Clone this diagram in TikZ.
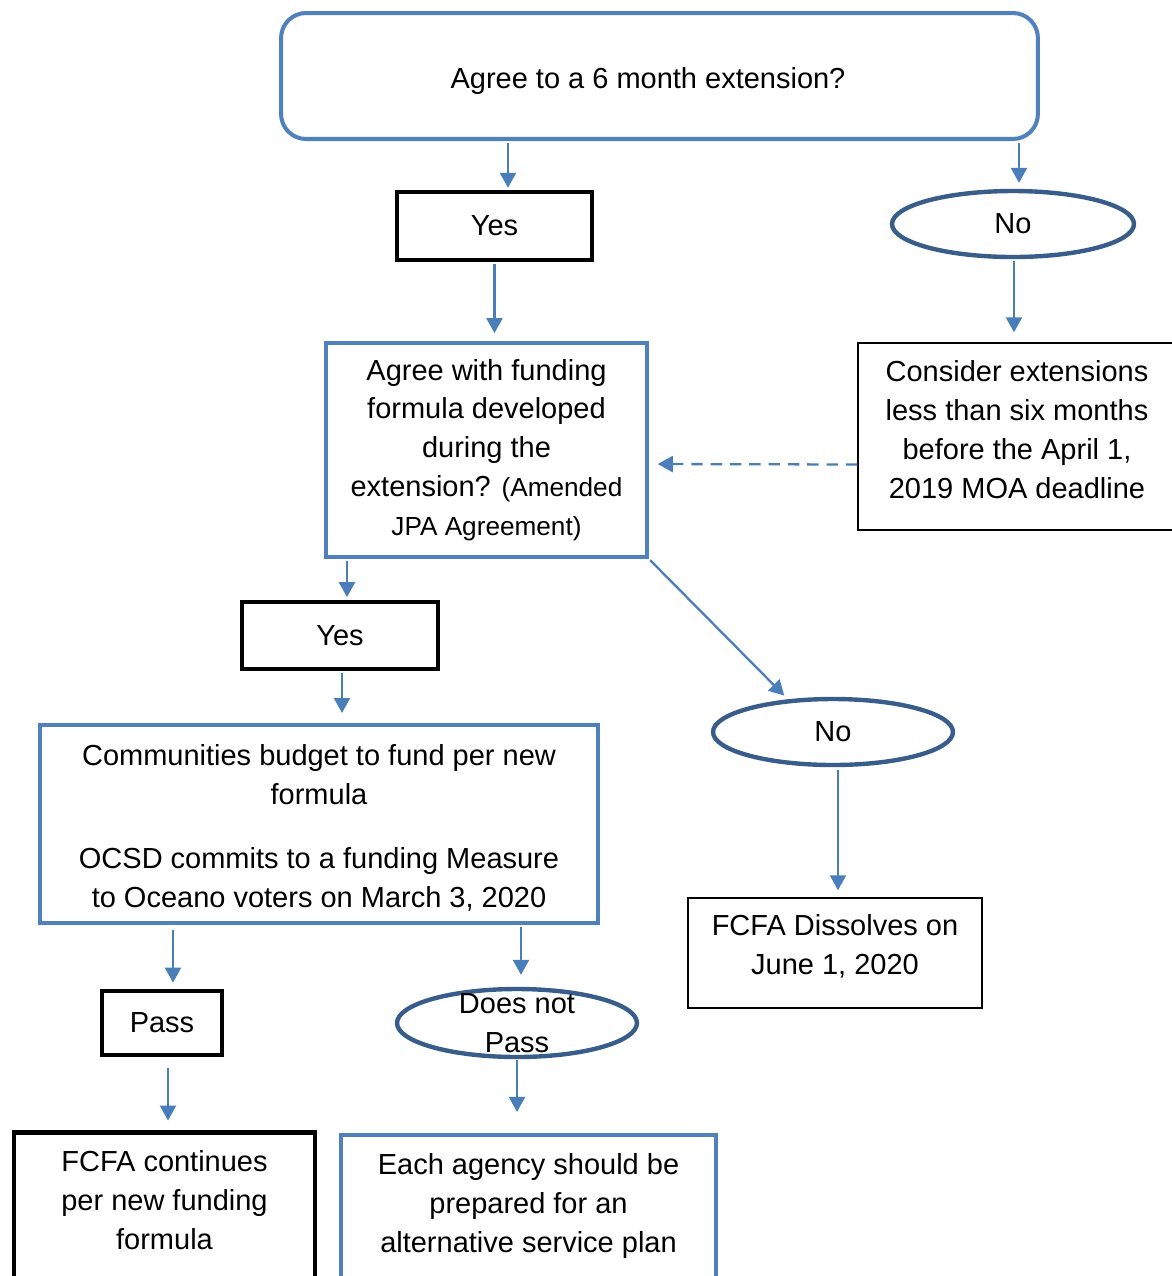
\documentclass[tikz,border=0pt]{standalone}
\usepackage{fontspec}
\setmainfont{Liberation Sans}
\usetikzlibrary{shapes.geometric,arrows.meta}
\definecolor{boxblue}{HTML}{4F81BD}
\definecolor{ovalblue}{HTML}{385D8A}
\definecolor{arrowblue}{HTML}{4A7EBB}
\newcommand\jpasize{\fontsize{14.9pt}{21pt}\selectfont}
\begin{document}
\begin{tikzpicture}[x=0.02cm,y=-0.02cm,
  font=\fontsize{16.5pt}{22.1pt}\selectfont,
  bluebox/.style={draw=boxblue,line width=2.3pt,inner sep=0pt},
  roundbox/.style={bluebox,rounded corners=0.5cm},
  blackbox/.style={draw=black,line width=2.8pt,inner sep=0pt},
  thinbox/.style={draw=black,line width=0.85pt,inner sep=0pt},
  oval/.style={ellipse,draw=ovalblue,line width=2.5pt,inner sep=0pt},
  arr/.style={draw=arrowblue,line width=1.3pt,-{Triangle[length=0.3cm,width=0.32cm]},shorten <=1pt,shorten >=1pt}]
 \clip (0,0) rectangle (1172,1276);
 \node[roundbox,minimum width=15.14cm,minimum height=2.52cm,
  label={[xshift=-0.23cm,yshift=-0.1cm]center:Agree to a 6 month extension?}] (top) at (659.5,76) {};
 \node[blackbox,minimum width=3.9cm,minimum height=1.36cm] (yesA) at (494.5,226) {Yes};
 \node[oval,minimum width=4.84cm,minimum height=1.32cm] (noA) at (1013,224) {No};
 \node[bluebox,minimum width=6.42cm,minimum height=4.28cm,align=center] (agree) at (486.5,450)
  {Agree with funding\\formula developed\\during the\\extension? {\jpasize(Amended}\\{\jpasize JPA Agreement)}};
 \node[thinbox,minimum width=6.36cm,minimum height=3.74cm,
  label={[align=center,yshift=0.14cm]center:Consider extensions\\less than six months\\before the April 1,\\2019 MOA deadline}] (consider) at (1017,436.5) {};
 \node[blackbox,minimum width=3.92cm,minimum height=1.34cm] (yesB) at (340,635.5) {Yes};
 \node[bluebox,minimum width=11.16cm,minimum height=3.96cm,
  label={[align=center,yshift=-0.08cm]center:Communities budget to fund per new\\formula\\[14.7pt]OCSD commits to a funding Measure\\to Oceano voters on March 3, 2020}] (budget) at (319,824) {};
 \node[oval,minimum width=4.8cm,minimum height=1.32cm] (noB) at (833,732) {No};
 \node[thinbox,minimum width=5.88cm,minimum height=2.2cm,
  label={[align=center,yshift=0.14cm]center:FCFA Dissolves on\\June 1, 2020}] (dissolve) at (835,953) {};
 \node[blackbox,minimum width=2.4cm,minimum height=1.28cm] (pass) at (162,1023) {Pass};
 \node[oval,minimum width=4.8cm,minimum height=1.36cm,label={[align=center]center:Does not\\Pass}] (notpass) at (517,1023) {};
 \node[blackbox,anchor=north,inner xsep=0.2cm,inner ysep=0.37cm] (continues) at (164.5,1130)
  {\parbox[t][2.66cm][t]{5.62cm}{\centering FCFA continues\\per new funding\\formula}};
 \node[bluebox,anchor=north,inner xsep=0.2cm,inner ysep=0.37cm] (agency) at (528.5,1133)
  {\parbox[t][2.66cm][t]{7.1cm}{\centering Each agency should be\\prepared for an\\alternative service plan}};
 \draw[arr] (top.south -| 508,0) -- (yesA.north -| 508,0);
 \draw[arr,shorten >=3.4pt] (top.south -| 1019,0) -- (noA.north -| 1019,0);
 \draw[arr,shorten >=4.5pt] (yesA.south) -- (agree.north -| yesA.south);
 \draw[arr,shorten >=5.7pt] (noA.south -| 1014,0) -- (consider.north -| 1014,0);
 \draw[arr,dashed,dash pattern=on 6.5pt off 4.5pt,shorten <=0pt,shorten >=5pt] ([yshift=-0.56cm]consider.west) -- (agree.east |- 0,464);
 \draw[arr,shorten >=1.4pt] (agree.south -| 347,0) -- (yesB.north -| 347,0);
 \draw[arr,shorten >=5.7pt] (yesB.south -| 342,0) -- (budget.north -| 342,0);
 \draw[arr,shorten >=3pt] (agree.south east) -- (noB.144);
 \draw[arr,shorten <=1.7pt,shorten >=4pt] (noB.south -| 838,0) -- (dissolve.north -| 838,0);
 \draw[arr,shorten <=2.8pt,shorten >=3.4pt] (budget.south -| 173,0) -- (pass.north -| 173,0);
 \draw[arr,shorten >=6.8pt] (budget.south -| 521,0) -- (notpass.north -| 521,0);
 \draw[arr,shorten <=6.2pt,shorten >=5.4pt] (pass.south -| 168,0) -- (continues.north -| 168,0);
 \draw[arr,shorten <=0.5pt,shorten >=12pt] (notpass.south -| 517,0) -- (agency.north -| 517,0);
\end{tikzpicture}
\end{document}
